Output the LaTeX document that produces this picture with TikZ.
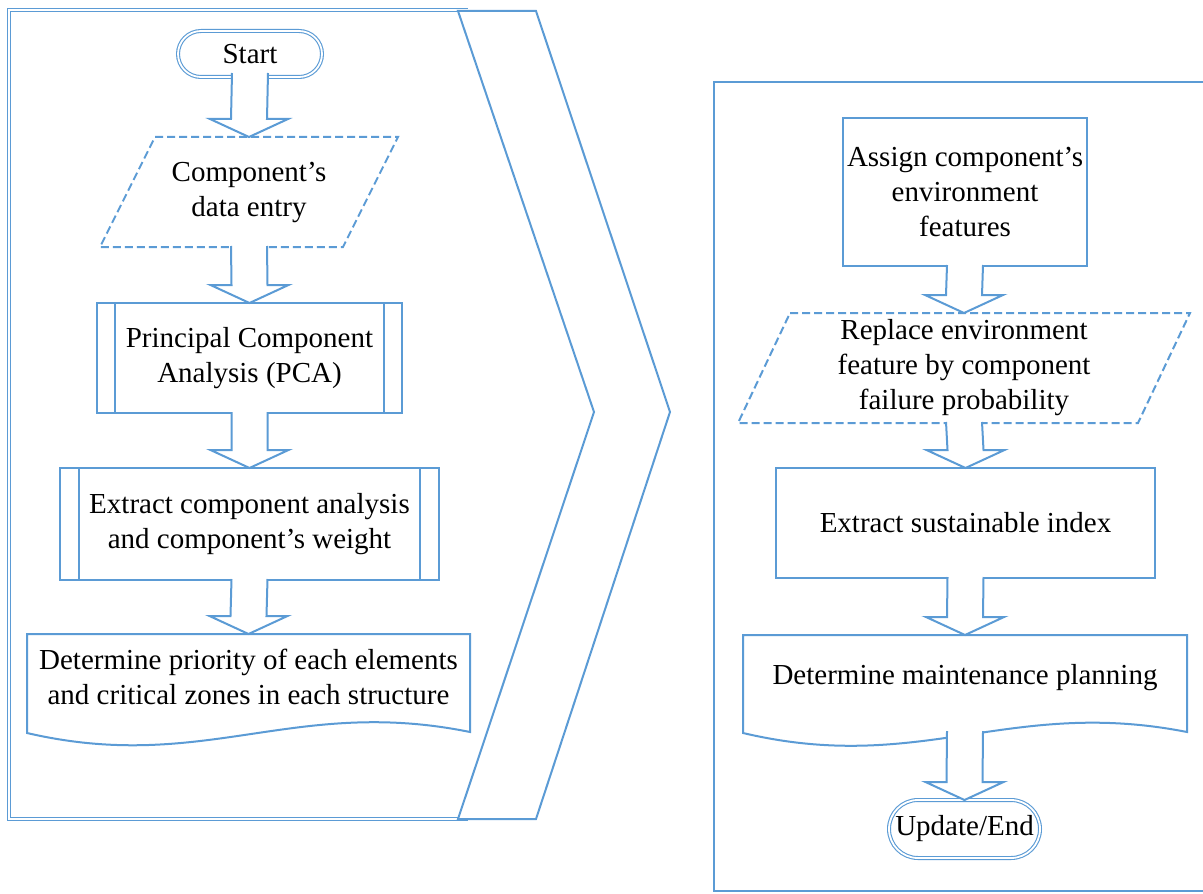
\documentclass[tikz,border=0pt]{standalone}
\usepackage{fontspec}
\setmainfont{Liberation Serif}
\usetikzlibrary{calc}
\definecolor{bl}{RGB}{91,155,213}
\pgfdeclarelayer{bg}
\pgfsetlayers{bg,main}
\tikzset{
  line/.style={draw=bl, line width=1pt},
  txt/.style={align=center, inner sep=0pt, outer sep=0pt, text=black,
              font=\fontsize{14.5pt}{17.5pt}\selectfont},
  box/.style={txt, line, fill=white},
  term/.style={txt, draw=bl, line width=0.55pt, double=white, double distance=0.9pt},
  arrowsty/.style={line, fill=white, line join=miter},
  dashline/.style={line, fill=white, dash pattern=on 4pt off 2pt},
  panel/.style={draw=bl, line width=0.6pt, double=white, double distance=1.2pt},
}
\newcommand\blockarrow[3][0]{%
  \path[arrowsty] ($(#2.south)+(18,#1-1)$) -- ($(#3.north)+(18,-18)$)
    -- ($(#3.north)+(39,-18)$) -- (#3.north) -- ($(#3.north)+(-39,-18)$)
    -- ($(#3.north)+(-18,-18)$) -- ($(#2.south)+(-18,#1-1)$);
}
\begin{document}
\begin{tikzpicture}[x=0.5pt, y=-0.5pt]
\useasboundingbox (0,0) rectangle (1203,893);

% panels
\begin{pgfonlayer}{bg}
  \draw[panel] (468,10) -- (9,10) -- (9,819) -- (468,819);
  \draw[line, fill=white] (458,11) -- (536,11) -- (670,412) -- (536,819)
    -- (458,819) -- (594,412) -- cycle;
  \draw[line] (714,82) rectangle (1230,891);
\end{pgfonlayer}

% left flow
\node[term, minimum width=72pt, minimum height=23pt, rounded corners=11.5pt]
  (start) at (250,54) {Start};
\node[txt, minimum width=149pt, minimum height=55pt]
  (data) at (249,192) {Component's\\data entry};
\node[box, minimum width=152.5pt, minimum height=55pt]
  (pca) at (249.5,358) {Principal Component\\Analysis (PCA)};
\node[box, minimum width=189.5pt, minimum height=56pt]
  (ext) at (249.5,524) {Extract component analysis\\and component's weight};
\node[txt, minimum width=221.5pt, minimum height=43pt]
  (det1) at (248.5,677) {Determine priority of each elements\\and critical zones in each structure};

% right flow
\node[box, minimum width=122pt, minimum height=74pt]
  (assign) at (965,192) {Assign component's\\environment\\features};
\node[txt, minimum width=226pt, minimum height=55pt]
  (repl) at (964,368) {Replace environment\\feature by component\\failure probability};
\node[box, minimum width=189.5pt, minimum height=55pt]
  (sust) at (965.5,523) {Extract sustainable index};
\node[txt, minimum width=222pt, minimum height=43pt]
  (det2) at (965,678) {Determine maintenance planning};
\node[term, minimum width=75.5pt, minimum height=29pt, rounded corners=14.5pt]
  (end) at (964.5,829) {Update/End};

% custom outlines
\begin{pgfonlayer}{bg}
  \draw[dashline] ($(data.north west)+(55,0)$) -- (data.north east)
    -- ($(data.south east)+(-55,0)$) -- (data.south west) -- cycle;
  \draw[dashline] ($(repl.north west)+(52,0)$) -- (repl.north east)
    -- ($(repl.south east)+(-52,0)$) -- (repl.south west) -- cycle;
  \draw[line, fill=white] ($(det1.south west)+(0,13)$) -- (det1.north west)
    -- (det1.north east) -- ($(det1.south east)+(0,12)$)
    .. controls ($(det1.south east)+(-177,-24)$) and ($(det1.south west)+(177,54)$)
    .. ($(det1.south west)+(0,13)$) -- cycle;
  \draw[line, fill=white] ($(det2.south west)+(0,12)$) -- (det2.north west)
    -- (det2.north east) -- ($(det2.south east)+(0,11)$)
    .. controls ($(det2.south east)+(-178,-24)$) and ($(det2.south west)+(178,54)$)
    .. ($(det2.south west)+(0,12)$) -- cycle;
\end{pgfonlayer}

% inner lines of predefined processes
\draw[line] ($(pca.north west)+(18,0)$) -- ($(pca.south west)+(18,0)$);
\draw[line] ($(pca.north east)+(-18,0)$) -- ($(pca.south east)+(-18,0)$);
\draw[line] ($(ext.north west)+(19,0)$) -- ($(ext.south west)+(19,0)$);
\draw[line] ($(ext.north east)+(-19,0)$) -- ($(ext.south east)+(-19,0)$);

% block arrows
\blockarrow[-3]{start}{data}
\blockarrow{data}{pca}
\blockarrow{pca}{ext}
\blockarrow{ext}{det1}
\blockarrow{assign}{repl}
\blockarrow{repl}{sust}
\blockarrow{sust}{det2}
\blockarrow[11]{det2}{end}
\end{tikzpicture}
\end{document}
